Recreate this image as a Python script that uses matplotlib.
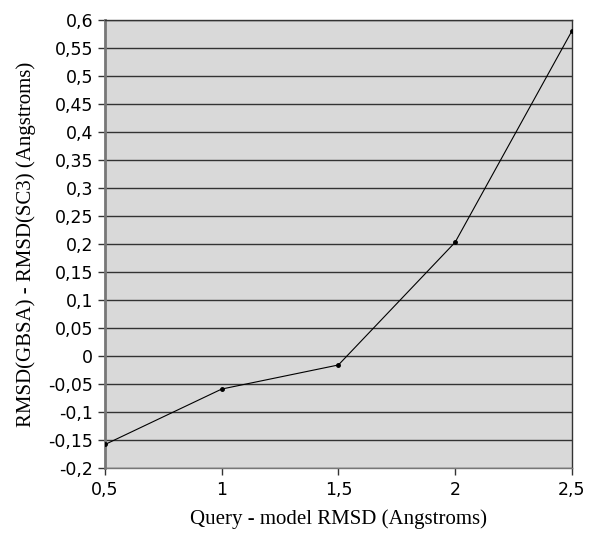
import matplotlib
matplotlib.use("Agg")
import matplotlib.pyplot as plt
from matplotlib.ticker import FuncFormatter

query_rmsd = [0.5, 1.0, 1.5, 2.0, 2.5]
rmsd_diff = [-0.158, -0.059, -0.016, 0.203, 0.580]

x_ticks = [0.5, 1.0, 1.5, 2.0, 2.5]
y_ticks = [round(-0.2 + 0.05 * i, 2) for i in range(17)]


def comma(v, pos=None):
    s = ("%.2f" % v).rstrip("0").rstrip(".")
    if s == "-0":
        s = "0"
    return s.replace(".", ",")


fig = plt.figure(figsize=(6, 5.4), dpi=100)
ax = fig.add_axes([0.175, 0.1333, 0.778, 0.8297])
ax.set_facecolor("#d9d9d9")

ax.plot(query_rmsd, rmsd_diff, color="black", linewidth=0.8,
        marker="o", markersize=2.5, zorder=3)

ax.set_xlim(0.5, 2.5)
ax.set_ylim(-0.2, 0.6)
ax.set_xticks(x_ticks)
ax.set_yticks(y_ticks)
ax.xaxis.set_major_formatter(FuncFormatter(comma))
ax.yaxis.set_major_formatter(FuncFormatter(comma))
ax.yaxis.grid(True, color="#333333", linewidth=1.0)
ax.set_axisbelow(True)

for side in ["top", "right"]:
    ax.spines[side].set_color("#333333")
    ax.spines[side].set_linewidth(1.0)
ax.spines["left"].set_color("#777777")
ax.spines["left"].set_linewidth(2.0)
ax.spines["bottom"].set_color("#777777")
ax.spines["bottom"].set_linewidth(1.0)

ax.tick_params(axis="both", direction="out", length=5, width=1,
               color="#333333", labelsize=12.5)
ax.tick_params(axis="x", pad=4)

ax.set_xlabel("Query - model RMSD (Angstroms)", family="Liberation Serif",
              fontsize=15, labelpad=8)
ax.set_ylabel("RMSD(GBSA) - RMSD(SC3) (Angstroms)", family="Liberation Serif",
              fontsize=15, labelpad=9)

fig.savefig("out.png", dpi=100)
